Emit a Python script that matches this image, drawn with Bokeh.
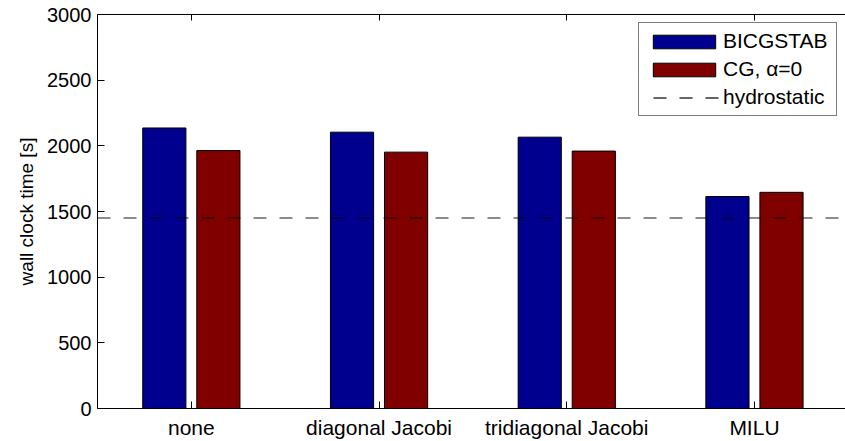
from bokeh.plotting import figure
from bokeh.models import (ColumnDataSource, Range1d, FixedTicker, LinearAxis,
                          Span, Legend, LegendItem)
from bokeh.embed import file_html
from bokeh.resources import INLINE

# ---- data ----
categories = ["none", "diagonal Jacobi", "tridiagonal Jacobi", "MILU"]
bicgstab = [2136, 2104, 2066, 1614]
cg_alpha0 = [1964, 1952, 1960, 1646]
hydrostatic = 1450
y_ticks = [0, 500, 1000, 1500, 2000, 2500, 3000]
series_labels = ["BICGSTAB", "CG, \u03b1=0", "hydrostatic"]

FONT = "Liberation Sans"
BLUE = "#00008F"
RED = "#800000"

positions = list(range(1, len(categories) + 1))
OFFSET = 0.144
BAR_W = 0.23

src = ColumnDataSource(dict(
    xb=[x - OFFSET for x in positions],
    xr=[x + OFFSET for x in positions],
    bicg=bicgstab,
    cg=cg_alpha0,
))

p = figure(width=845, height=441, output_backend="svg", toolbar_location=None,
           x_range=Range1d(0.5, 4.485), y_range=Range1d(0, 3000),
           min_border_left=97, min_border_right=0, min_border_top=14,
           min_border_bottom=33)
p.outline_line_color = None
p.background_fill_color = "white"
p.border_fill_color = "white"
p.xgrid.visible = False
p.ygrid.visible = False

r_b = p.vbar(x="xb", top="bicg", width=BAR_W, source=src,
             fill_color=BLUE, line_color="black", line_width=1)
r_r = p.vbar(x="xr", top="cg", width=BAR_W, source=src,
             fill_color=RED, line_color="black", line_width=1)

span = Span(location=hydrostatic, dimension="width", line_color="black",
            line_alpha=0.6, line_width=1.5, line_dash="13 13")
p.add_layout(span)
# legend entry for the hydrostatic level (single point: draws nothing in the plot)
r_h = p.line(x=[positions[0]], y=[hydrostatic], line_color="black",
             line_alpha=0.8, line_width=1.5, line_dash="13 13",
             line_dash_offset=18)

# axes
xa = p.xaxis[0]
xa.ticker = FixedTicker(ticks=positions)
xa.major_label_overrides = {pos: lab for pos, lab in zip(positions, categories)}
xa.major_tick_in = 7
xa.major_tick_out = 0
xa.minor_tick_line_color = None
xa.major_label_standoff = 7
xa.major_label_text_font = FONT
xa.major_label_text_font_size = "21px"
xa.major_label_text_color = "black"
xa.axis_line_color = "black"
xa.major_tick_line_color = "black"

ya = p.yaxis[0]
ya.ticker = FixedTicker(ticks=y_ticks)
ya.major_tick_in = 7
ya.major_tick_out = 0
ya.minor_tick_line_color = None
ya.major_label_standoff = 6
ya.major_label_text_font = FONT
ya.major_label_text_font_size = "20px"
ya.major_label_text_color = "black"
ya.axis_label = "wall clock time [s]"
ya.axis_label_text_font = FONT
ya.axis_label_text_font_size = "19px"
ya.axis_label_text_font_style = "normal"
ya.axis_label_text_color = "black"
ya.axis_label_standoff = 7
ya.axis_line_color = "black"
ya.major_tick_line_color = "black"

top = LinearAxis(ticker=FixedTicker(ticks=positions), major_tick_in=6,
                 major_tick_out=0, minor_tick_line_color=None,
                 major_label_text_font_size="1px", major_label_text_color=None,
                 major_label_standoff=0,
                 axis_line_color="black", major_tick_line_color="black")
p.add_layout(top, "above")

legend = Legend(items=[LegendItem(label=series_labels[0], renderers=[r_b]),
                       LegendItem(label=series_labels[1], renderers=[r_r]),
                       LegendItem(label=series_labels[2], renderers=[r_h])],
                location="top_right", margin=8, padding=6, spacing=4,
                glyph_width=78, glyph_height=17, label_standoff=0,
                label_width=107, label_height=23, label_text_font=FONT,
                label_text_font_size="21px", label_text_color="black",
                border_line_color="black", border_line_width=1.5,
                background_fill_color="white", background_fill_alpha=1)
p.add_layout(legend)

open("out.html", "w").write(file_html(p, INLINE))
